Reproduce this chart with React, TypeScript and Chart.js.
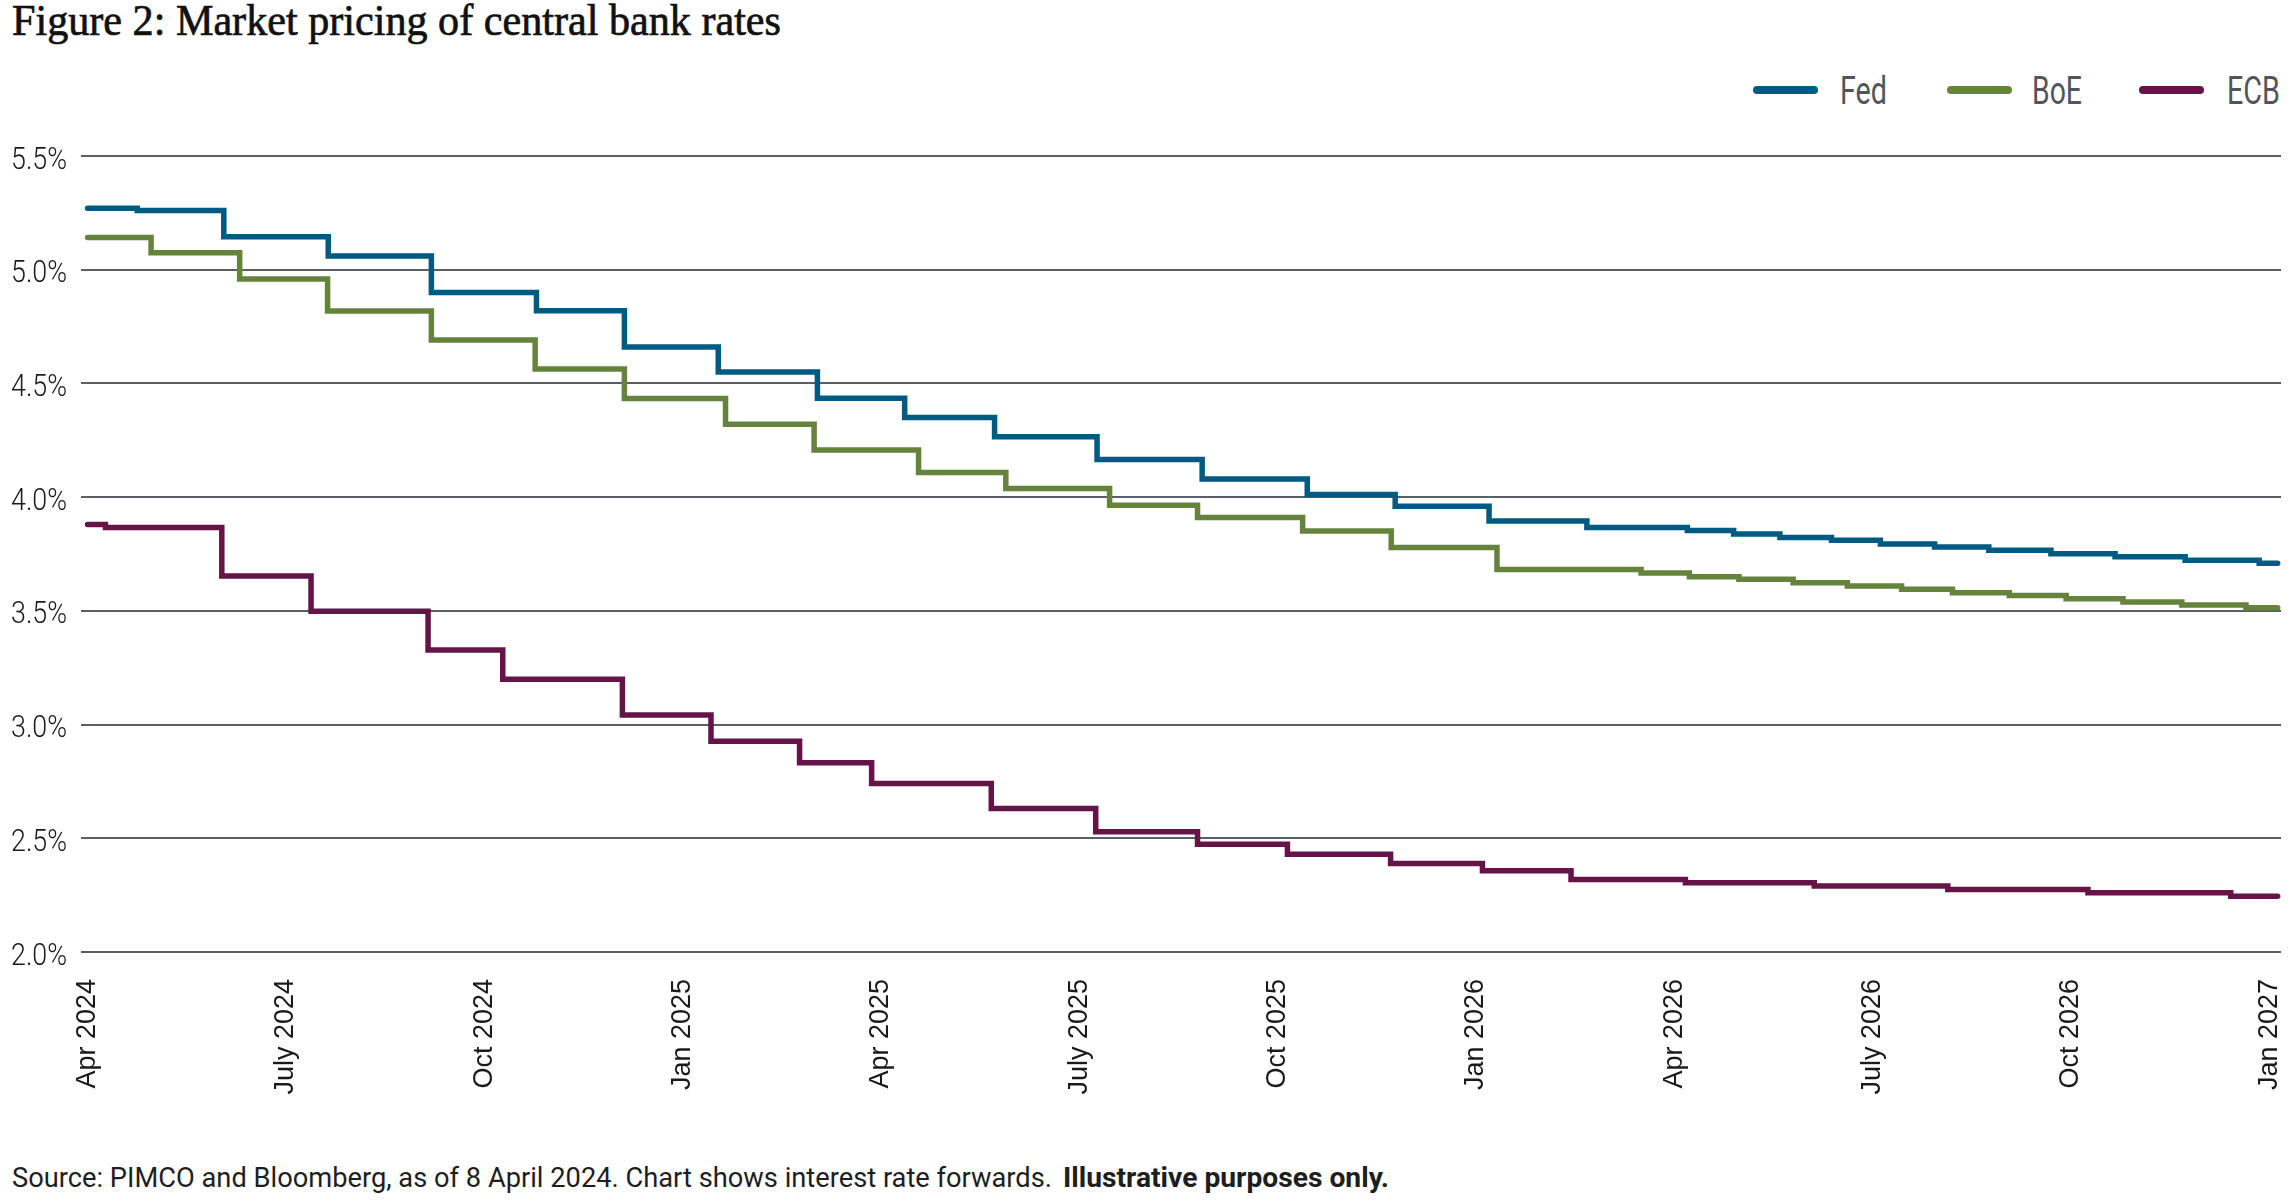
import React, { useEffect, useLayoutEffect, useRef } from 'react';
import { Chart, registerables } from 'chart.js';

Chart.register(...registerables);

// ---- Data (x = months after the first observation, 8 Apr 2024) ----
const tickMonths = [0, 3, 6, 9, 12, 15, 18, 21, 24, 27, 30, 33];
const tickLabels = [
  'Apr 2024', 'July 2024', 'Oct 2024', 'Jan 2025', 'Apr 2025', 'July 2025',
  'Oct 2025', 'Jan 2026', 'Apr 2026', 'July 2026', 'Oct 2026', 'Jan 2027',
];

const fedMonths = [0, 0.75, 2.06, 3.64, 5.2, 6.79, 8.12, 9.54, 11.04, 12.36, 13.72, 15.27, 16.86, 18.45, 19.78, 21.2, 22.68, 24.2, 24.9, 25.6, 26.38, 27.12, 27.94, 28.76, 29.7, 30.67, 31.73, 32.85, 33.13];
const fedRates = [5.27, 5.26, 5.145, 5.06, 4.9, 4.82, 4.66, 4.55, 4.435, 4.35, 4.265, 4.165, 4.08, 4.012, 3.96, 3.895, 3.866, 3.853, 3.838, 3.823, 3.81, 3.794, 3.781, 3.767, 3.751, 3.738, 3.723, 3.709, 3.709];

const boeMonths = [0, 0.96, 2.3, 3.63, 5.2, 6.77, 8.12, 9.65, 10.99, 12.57, 13.89, 15.46, 16.79, 18.38, 19.72, 21.32, 23.5, 24.23, 24.98, 25.8, 26.62, 27.44, 28.21, 29.07, 29.93, 30.79, 31.68, 32.65, 33.13];
const boeRates = [5.142, 5.075, 4.959, 4.818, 4.691, 4.563, 4.434, 4.321, 4.207, 4.108, 4.038, 3.964, 3.91, 3.851, 3.779, 3.682, 3.667, 3.65, 3.639, 3.624, 3.609, 3.595, 3.58, 3.567, 3.553, 3.539, 3.526, 3.514, 3.514];

const ecbMonths = [0, 0.27, 2.03, 3.38, 5.15, 6.28, 8.09, 9.43, 10.77, 11.86, 13.67, 15.25, 16.79, 18.15, 19.71, 21.1, 22.44, 24.17, 26.12, 28.14, 30.26, 32.42, 33.13];
const ecbRates = [3.88, 3.867, 3.653, 3.498, 3.328, 3.199, 3.042, 2.927, 2.832, 2.741, 2.631, 2.529, 2.474, 2.43, 2.389, 2.357, 2.319, 2.304, 2.29, 2.275, 2.261, 2.245, 2.245];

const seriesNames = ['Fed', 'BoE', 'ECB'];
const seriesColors = ['#005a81', '#65833d', '#641446'];

const yMin = 2.0;
const yMax = 5.5;
const yStep = 0.5;

const titleText = 'Figure 2: Market pricing of central bank rates';
const sourceText = 'Source: PIMCO and Bloomberg, as of 8 April 2024. Chart shows interest rate forwards.';
const noteText = 'Illustrative purposes only.';

const SANS = "Roboto, 'Liberation Sans', sans-serif";

function toPoints(xs: number[], ys: number[]) {
  return xs.map((x, i) => ({ x, y: ys[i] }));
}

const fmtPct = (v: number) => Number(v).toFixed(1) + '%';

// Draws the y tick labels of the library's y scale in a condensed face
const condensedYLabels = {
  id: 'condensedYLabels',
  afterDraw(chart: any) {
    const s = chart.scales.y;
    const ctx = chart.ctx as CanvasRenderingContext2D;
    ctx.save();
    ctx.font = `300 32px ${SANS}`;
    ctx.fillStyle = '#1a1a1a';
    ctx.textAlign = 'right';
    ctx.textBaseline = 'alphabetic';
    const k = 56 / ctx.measureText('5.5%').width;
    s.ticks.forEach((t: any) => {
      const y = s.getPixelForValue(t.value);
      ctx.save();
      ctx.translate(s.right - 14, y + 12.5);
      ctx.scale(k, 1);
      ctx.fillText(fmtPct(t.value), 0, 0);
      ctx.restore();
    });
    ctx.restore();
  },
};

function FitText(props: { width: number; left: number; top: number; style?: any; children: any }) {
  const ref = useRef<HTMLDivElement | null>(null);
  useLayoutEffect(() => {
    const fit = () => {
      const el = ref.current;
      if (!el) return;
      el.style.transform = 'none';
      const w = el.getBoundingClientRect().width;
      if (w > 0) el.style.transform = `scaleX(${props.width / w})`;
    };
    fit();
    const f: any = (document as any).fonts;
    if (f && f.ready) f.ready.then(fit);
  }, [props.width]);
  return (
    <div
      ref={ref}
      style={{
        position: 'absolute',
        left: props.left,
        top: props.top,
        whiteSpace: 'nowrap',
        transformOrigin: 'left top',
        ...props.style,
      }}
    >
      {props.children}
    </div>
  );
}

export default function App() {
  const canvasRef = useRef<HTMLCanvasElement | null>(null);

  useEffect(() => {
    const canvas = canvasRef.current;
    if (!canvas) return;
    const all = [
      toPoints(fedMonths, fedRates),
      toPoints(boeMonths, boeRates),
      toPoints(ecbMonths, ecbRates),
    ];
    const chart = new Chart(canvas, {
      type: 'line',
      data: {
        datasets: all.map((pts, i) => ({
          label: seriesNames[i],
          data: pts,
          borderColor: seriesColors[i],
          backgroundColor: seriesColors[i],
          borderWidth: 5.5,
          stepped: true,
          pointRadius: 0,
          pointHoverRadius: 0,
          borderCapStyle: 'round',
          borderJoinStyle: 'miter',
          fill: false,
        })),
      },
      options: {
        animation: false,
        responsive: false,
        maintainAspectRatio: false,
        layout: { padding: { top: 36, right: 11, left: 0, bottom: 0 } },
        plugins: {
          legend: { display: false },
          tooltip: { enabled: false },
          title: { display: false },
        },
        scales: {
          x: {
            type: 'linear',
            min: -0.1,
            max: 33.18,
            afterBuildTicks: (s: any) => {
              s.ticks = tickMonths.map((v) => ({ value: v }));
            },
            afterFit: (s: any) => {
              s.height = 178;
              s.paddingLeft = 0;
              s.paddingRight = 0;
            },
            grid: { display: false },
            border: { display: false },
            ticks: {
              autoSkip: false,
              minRotation: 90,
              maxRotation: 90,
              padding: 19,
              color: '#1a1a1a',
              font: { family: "'Liberation Sans', Arial, sans-serif", size: 27 },
              callback: (_v: any, i: number) => tickLabels[i],
            },
          },
          y: {
            min: yMin,
            max: yMax,
            afterFit: (s: any) => {
              s.width = 81;
              s.paddingTop = 0;
              s.paddingBottom = 0;
            },
            grid: { color: '#5a5e66', lineWidth: 2, drawTicks: false },
            border: { display: false },
            ticks: {
              stepSize: yStep,
              display: false,
              callback: (v: any) => fmtPct(v),
            },
          },
        },
      },
      plugins: [condensedYLabels],
    } as any);
    return () => chart.destroy();
  }, []);

  const legendLineLeft = [1753, 1947, 2139];
  const legendTextLeft = [1840, 2032, 2227];
  const legendTextWidth = [47, 50, 53];

  return (
    <div
      style={{
        position: 'absolute',
        left: 0,
        top: 0,
        width: 2292,
        height: 1202,
        background: '#ffffff',
        overflow: 'hidden',
      }}
    >
      <FitText
        width={769}
        left={12}
        top={-1}
        style={{
          fontFamily: "'Liberation Serif', 'DejaVu Serif', serif",
          fontSize: 44,
          lineHeight: '44px',
          color: '#111111',
          WebkitTextStroke: '0.7px #111111',
        }}
      >
        {titleText}
      </FitText>

      {seriesNames.map((name, i) => (
        <React.Fragment key={name}>
          <div
            style={{
              position: 'absolute',
              left: legendLineLeft[i],
              top: 86,
              width: 65,
              height: 8,
              borderRadius: 4,
              background: seriesColors[i],
            }}
          />
          <FitText
            width={legendTextWidth[i]}
            left={legendTextLeft[i]}
            top={68}
            style={{ fontFamily: SANS, fontSize: 39, lineHeight: '46px', color: '#50555c' }}
          >
            {name}
          </FitText>
        </React.Fragment>
      ))}

      <canvas
        ref={canvasRef}
        width={2292}
        height={1010}
        style={{ position: 'absolute', left: 0, top: 120, width: 2292, height: 1010, display: 'block' }}
      />

      <FitText
        width={1040}
        left={12}
        top={1164}
        style={{ fontFamily: SANS, fontSize: 28, lineHeight: '28px', color: '#1e1e1e' }}
      >
        {sourceText}
      </FitText>
      <FitText
        width={326}
        left={1063}
        top={1164}
        style={{ fontFamily: SANS, fontSize: 28, lineHeight: '28px', color: '#1e1e1e', fontWeight: 700 }}
      >
        {noteText}
      </FitText>
    </div>
  );
}
